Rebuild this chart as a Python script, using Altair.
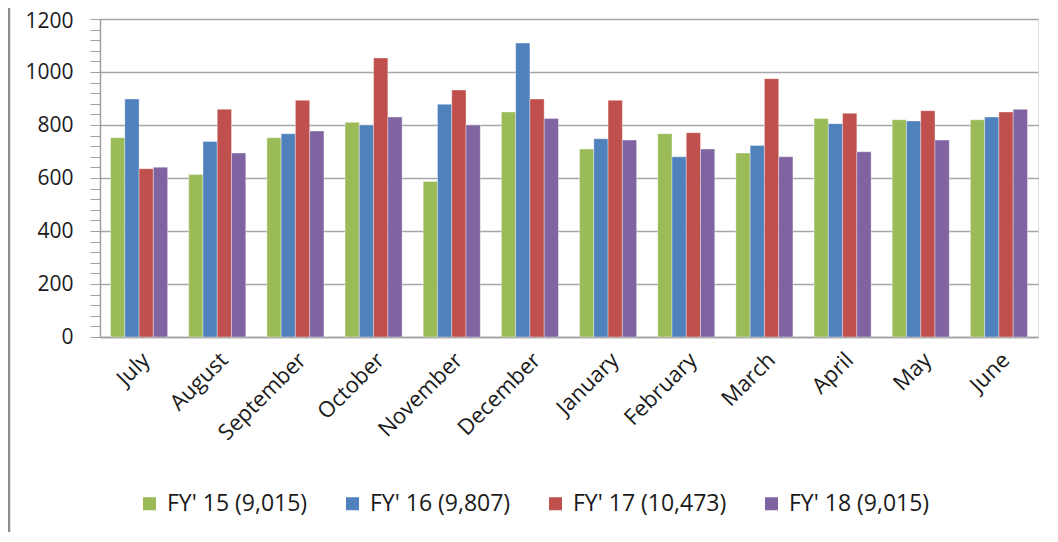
import altair as alt
import pandas as pd

months = ["July", "August", "September", "October", "November", "December",
          "January", "February", "March", "April", "May", "June"]
series = ["FY' 15 (9,015)", "FY' 16 (9,807)", "FY' 17 (10,473)", "FY' 18 (9,015)"]
colors = ["#9BBB59", "#4F81BD", "#C0504D", "#8064A2"]

fy15 = [752, 613, 752, 810, 587, 849, 709, 767, 694, 825, 820, 820]
fy16 = [898, 738, 767, 800, 878, 1109, 748, 680, 723, 805, 815, 830]
fy17 = [635, 859, 893, 1053, 932, 898, 893, 771, 975, 844, 854, 849]
fy18 = [641, 694, 777, 830, 800, 825, 743, 709, 680, 699, 743, 859]

y_ticks = list(range(0, 1201, 40))

rows = []
for name, vals in zip(series, [fy15, fy16, fy17, fy18]):
    for m, v in zip(months, vals):
        rows.append({"month": m, "series": name, "value": v})
df = pd.DataFrame(rows)

FONT = "Open Sans"

bars = alt.Chart(df).mark_bar(stroke="white", strokeWidth=0.6, strokeOpacity=0.6).encode(
    x=alt.X("month:N", sort=months, title=None,
            scale=alt.Scale(paddingInner=0.27, paddingOuter=0.135),
            axis=alt.Axis(labelAngle=-45, labelFontSize=22, labelFont=FONT,
                          labelColor="#1a1a1a", ticks=False, labelPadding=12,
                          domainColor="#A0A0A0", domainWidth=1.5, grid=False)),
    xOffset=alt.XOffset("series:N", sort=series, scale=alt.Scale(paddingInner=0, paddingOuter=0)),
    y=alt.Y("value:Q", title=None,
            scale=alt.Scale(domain=[0, 1200], nice=False),
            axis=alt.Axis(values=y_ticks, format="d",
                          labelExpr="datum.value % 200 === 0 ? datum.label : ''",
                          labelOffset={"condition": {"test": "datum.value === 1200", "value": 2}, "value": 0},
                          gridOpacity={"condition": {"test": "datum.value % 200 === 0", "value": 1}, "value": 0},
                          gridColor="#A6A6A6", gridWidth=1.5,
                          domainColor="#A0A0A0", domainWidth=1.5,
                          tickColor="#A0A0A0", tickSize=10, tickWidth=1,
                          labelFontSize=21, labelFont=FONT, labelColor="#1a1a1a",
                          labelPadding=17)),
    color=alt.Color("series:N", sort=series, title=None,
                    scale=alt.Scale(domain=series, range=colors),
                    legend=alt.Legend(orient="none", direction="horizontal",
                                      legendX=38, legendY=473,
                                      symbolType="square", symbolSize=169,
                                      symbolStrokeWidth=0, labelFontSize=23,
                                      labelFont=FONT, labelColor="#1a1a1a",
                                      labelOffset=6, columnPadding=33)),
)

border = alt.Chart(pd.DataFrame({"a": [0]})).mark_rule(color="#8C8C8C", strokeWidth=2.5).encode(
    x=alt.value(-91), y=alt.value(-12), y2=alt.value(530)
)

chart = alt.layer(bars, border).properties(
    width=938, height=318,
    padding={"left": 92, "top": 11, "right": 11, "bottom": 195},
    autosize=alt.AutoSizeParams(type="none"),
).configure_view(stroke=None).configure(background="white")

chart.save("out.html", embed_options={"renderer": "svg", "actions": False})
